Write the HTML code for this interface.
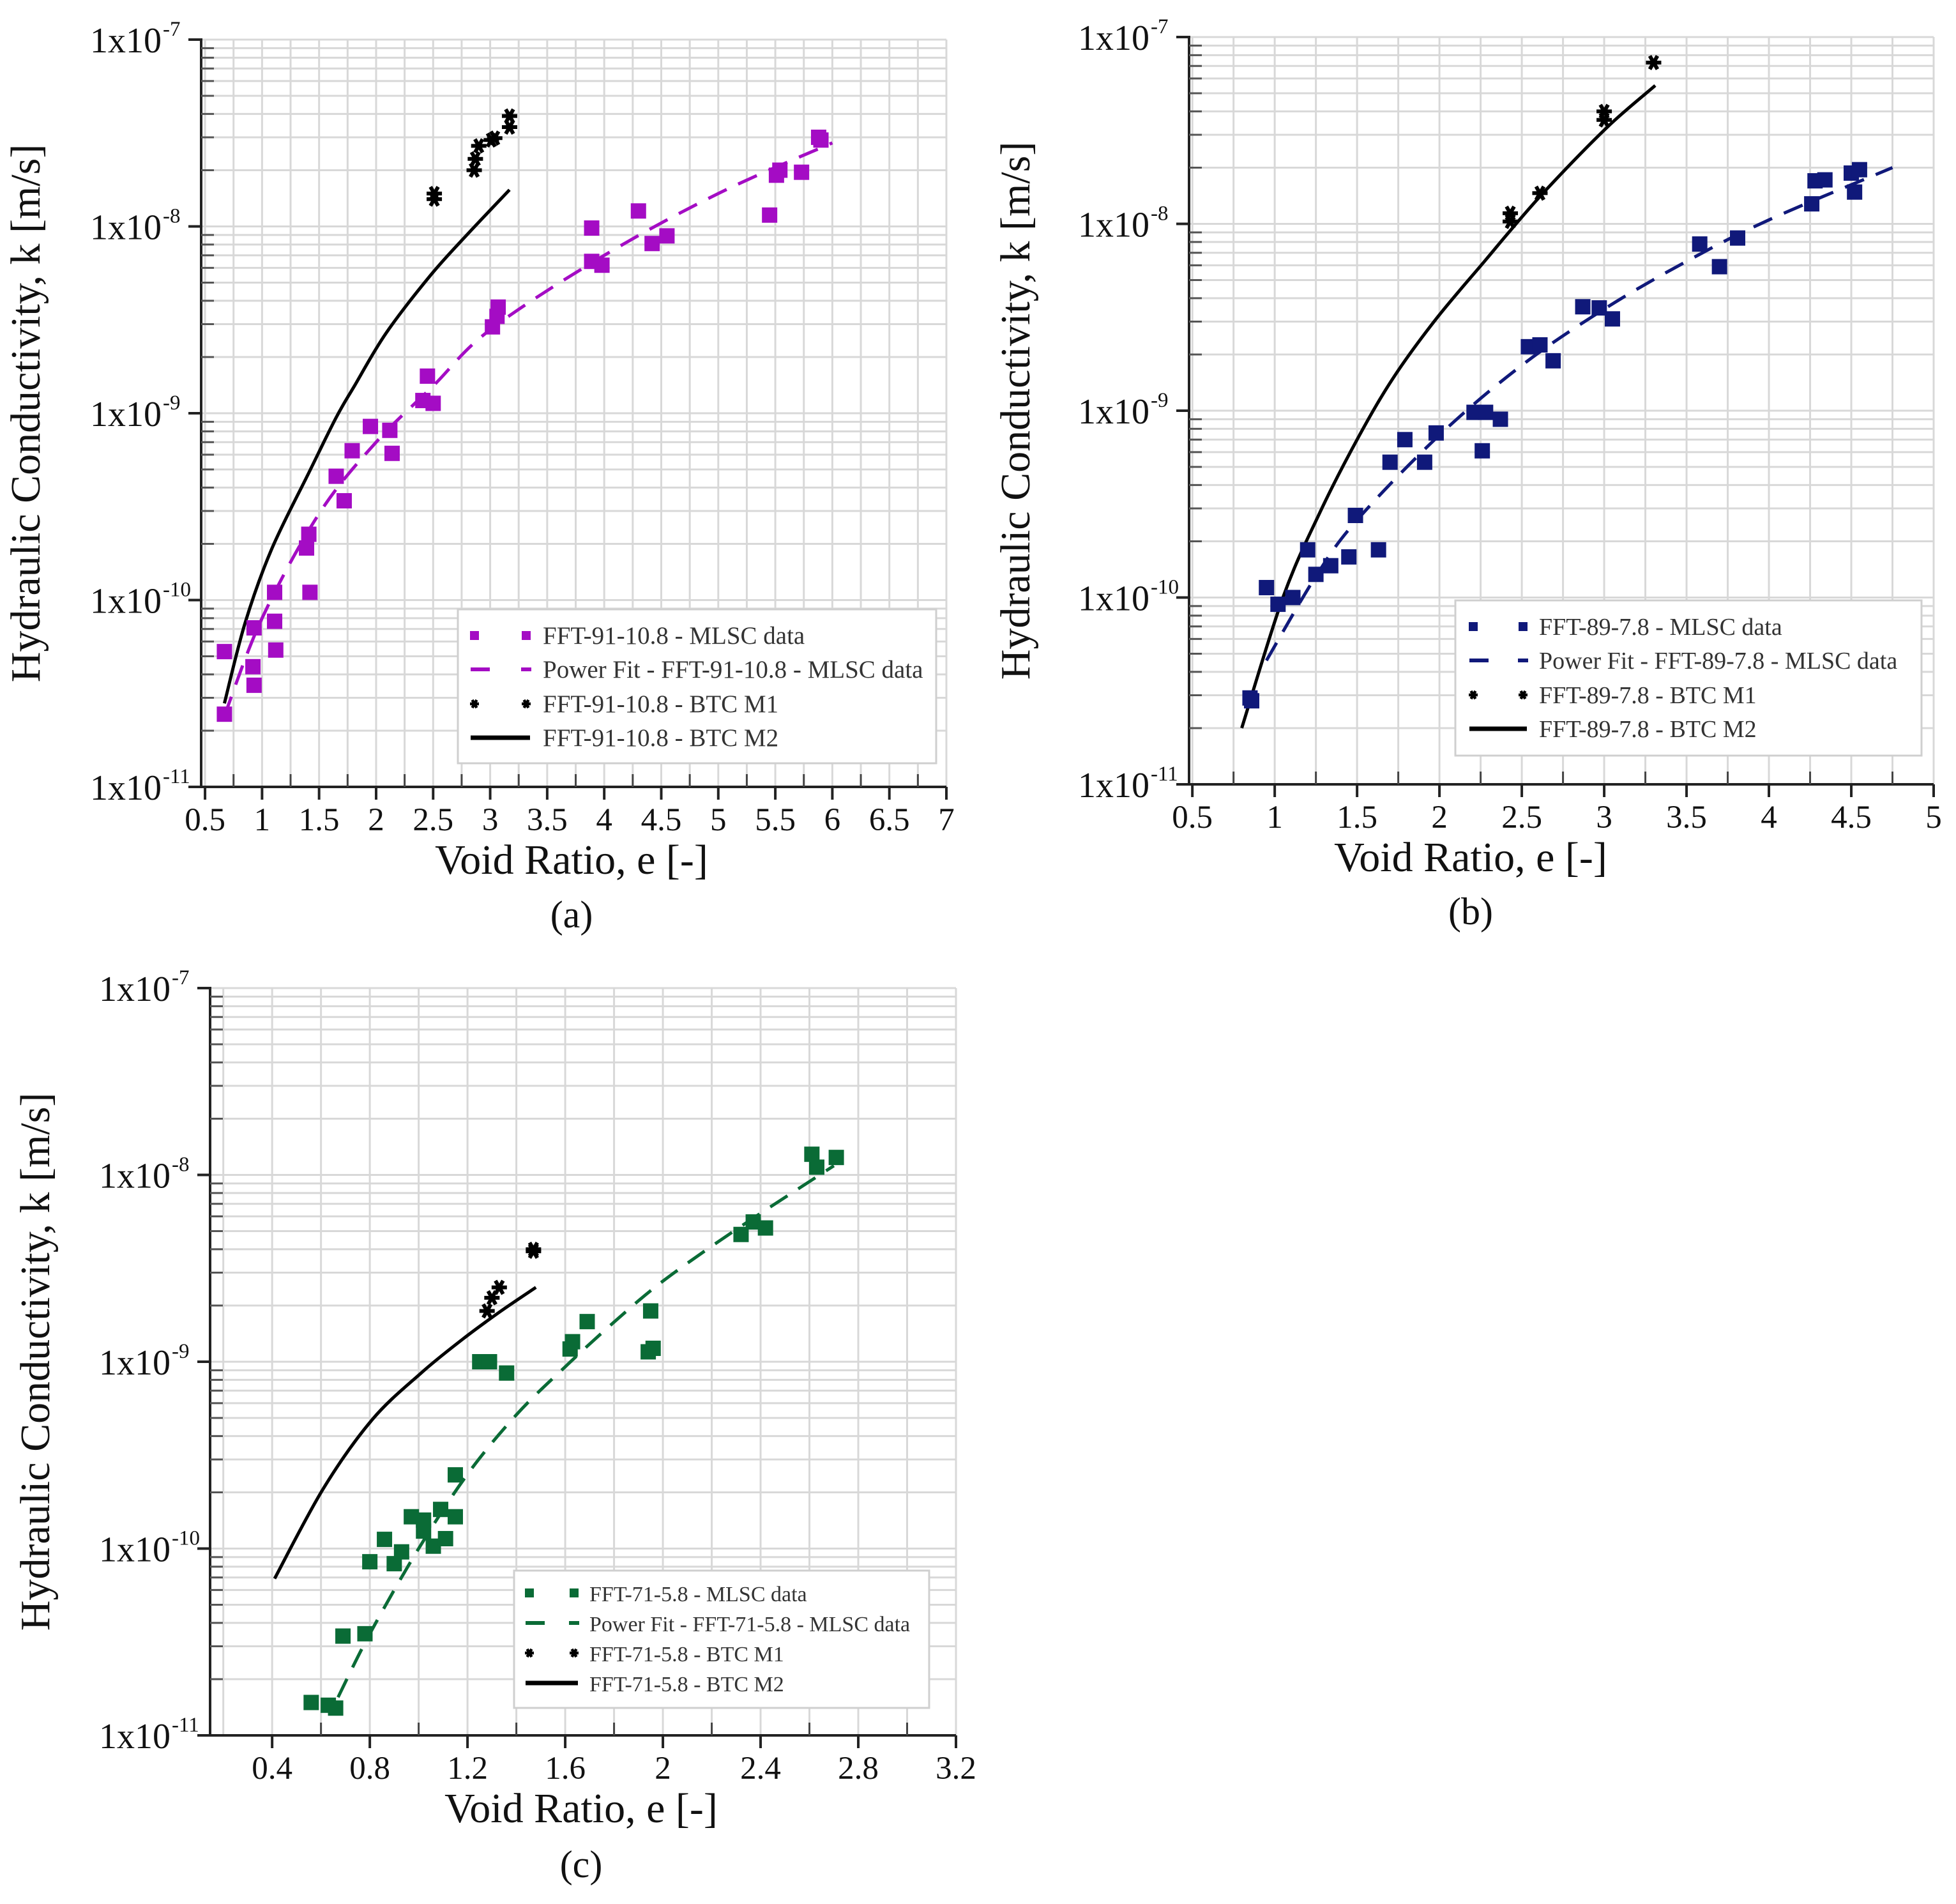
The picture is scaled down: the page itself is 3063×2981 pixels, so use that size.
<!DOCTYPE html>
<html><head><meta charset="utf-8"><style>
html,body{margin:0;padding:0;background:#fff;}
svg{display:block;font-family:"Liberation Serif","Times New Roman",serif;}
svg text{font-family:"Liberation Serif","Times New Roman",serif;}
</style></head><body>
<svg id="fig" xmlns="http://www.w3.org/2000/svg" width="3063" height="2981" viewBox="0 0 3063 2981" font-family="Liberation Serif, serif"></svg>
<script>
// ---------- Panel (a) data ----------
const aMlscE = [0.67,0.67,0.93,0.92,0.93,1.11,1.11,1.12,1.41,1.39,1.42,1.65,1.72,1.79,1.95,2.12,2.14,2.41,2.45,2.50,3.02,3.06,3.07,3.89,3.89,3.98,4.30,4.42,4.55,5.45,5.51,5.54,5.73,5.88,5.90];
const aMlscK = [5.3e-11,2.45e-11,7.1e-11,4.4e-11,3.5e-11,1.1e-10,7.7e-11,5.4e-11,2.25e-10,1.9e-10,1.1e-10,4.6e-10,3.4e-10,6.3e-10,8.5e-10,8.1e-10,6.1e-10,1.17e-9,1.58e-9,1.13e-9,2.9e-9,3.3e-9,3.7e-9,9.8e-9,6.5e-9,6.2e-9,1.21e-8,8.1e-9,8.9e-9,1.15e-8,1.88e-8,2.0e-8,1.95e-8,3.0e-8,2.9e-8];
const aFitE = [0.67,1.0,1.5,2.0,2.5,3.0,4.0,5.0,6.0];
const aFitK = [2.4e-11,8e-11,2.9e-10,7e-10,1.4e-9,2.8e-9,7e-9,1.5e-8,2.8e-8];
const aM1E = [2.51,2.51,2.86,2.87,2.90,3.01,3.04,3.17,3.17];
const aM1K = [1.5e-8,1.4e-8,2.0e-8,2.3e-8,2.7e-8,2.9e-8,2.97e-8,3.4e-8,3.9e-8];
const aM2E = [0.67,0.85,1.08,1.41,1.65,1.81,2.09,2.48,2.81,3.17];
const aM2K = [2.8e-11,7.5e-11,1.85e-10,4.8e-10,9.5e-10,1.4e-9,2.7e-9,5.5e-9,9.2e-9,1.57e-8];
// ---------- Panel (b) data ----------
const bMlscE = [0.85,0.86,0.95,1.02,1.11,1.20,1.25,1.34,1.45,1.49,1.63,1.70,1.79,1.91,1.98,2.21,2.28,2.26,2.37,2.54,2.61,2.69,2.87,2.97,3.05,3.58,3.70,3.81,4.26,4.28,4.34,4.50,4.52,4.55];
const bMlscK = [2.9e-11,2.8e-11,1.13e-10,9.2e-11,1.0e-10,1.8e-10,1.33e-10,1.48e-10,1.65e-10,2.75e-10,1.8e-10,5.3e-10,7e-10,5.3e-10,7.6e-10,9.8e-10,9.8e-10,6.1e-10,9e-10,2.2e-9,2.25e-9,1.85e-9,3.6e-9,3.55e-9,3.1e-9,7.8e-9,5.9e-9,8.4e-9,1.28e-8,1.7e-8,1.72e-8,1.87e-8,1.48e-8,1.95e-8];
const bFitE = [0.95,1.25,1.5,2.0,2.5,3.0,3.5,4.0,4.75];
const bFitK = [4.6e-11,1.3e-10,2.6e-10,7.4e-10,1.75e-9,3.5e-9,6.3e-9,1.05e-8,2.0e-8];
const bM1E = [2.43,2.43,2.61,3.0,3.0,3.30];
const bM1K = [1.14e-8,1.03e-8,1.46e-8,4.0e-8,3.6e-8,7.3e-8];
const bM2E = [0.80,1.05,1.27,1.50,1.72,1.98,2.28,2.43,2.65,3.02,3.31];
const bM2K = [2e-11,1.0e-10,2.8e-10,7.0e-10,1.5e-9,3.1e-9,6.4e-9,9.2e-9,1.53e-8,3.3e-8,5.5e-8];
// ---------- Panel (c) data ----------
const cMlscE = [0.56,0.63,0.66,0.69,0.78,0.80,0.86,0.90,0.93,0.97,1.02,1.02,1.06,1.09,1.11,1.15,1.15,1.25,1.29,1.36,1.62,1.63,1.69,1.94,1.96,1.95,2.32,2.37,2.42,2.61,2.63,2.71];
const cMlscK = [1.5e-11,1.45e-11,1.4e-11,3.4e-11,3.5e-11,8.5e-11,1.12e-10,8.3e-11,9.6e-11,1.48e-10,1.42e-10,1.24e-10,1.03e-10,1.62e-10,1.13e-10,1.48e-10,2.48e-10,1.0e-9,1.0e-9,8.7e-10,1.17e-9,1.28e-9,1.64e-9,1.13e-9,1.18e-9,1.87e-9,4.8e-9,5.6e-9,5.2e-9,1.29e-8,1.1e-8,1.24e-8];
const cFitE = [0.67,0.8,1.0,1.2,1.4,1.6,1.8,2.0,2.3,2.7];
const cFitK = [1.6e-11,3.5e-11,1.0e-10,2.5e-10,5.2e-10,9.4e-10,1.63e-9,2.7e-9,5.1e-9,1.12e-8];
const cM1E = [1.28,1.30,1.33,1.47,1.47];
const cM1K = [1.87e-9,2.2e-9,2.5e-9,4.0e-9,3.9e-9];
const cM2E = [0.41,0.61,0.81,1.01,1.18,1.33,1.48];
const cM2K = [6.9e-11,2.1e-10,4.9e-10,8.7e-10,1.32e-9,1.84e-9,2.5e-9];
// ---------- tick labels ----------
const aXTicks = [0.5,1,1.5,2,2.5,3,3.5,4,4.5,5,5.5,6,6.5,7];
const bXTicks = [0.5,1,1.5,2,2.5,3,3.5,4,4.5,5];
const cXTicks = [0.4,0.8,1.2,1.6,2,2.4,2.8,3.2];
const yExps = [-7,-8,-9,-10,-11];
const aLegend = ["FFT-91-10.8 - MLSC data","Power Fit - FFT-91-10.8 - MLSC data","FFT-91-10.8 - BTC M1","FFT-91-10.8 - BTC M2"];
const bLegend = ["FFT-89-7.8 - MLSC data","Power Fit - FFT-89-7.8 - MLSC data","FFT-89-7.8 - BTC M1","FFT-89-7.8 - BTC M2"];
const cLegend = ["FFT-71-5.8 - MLSC data","Power Fit - FFT-71-5.8 - MLSC data","FFT-71-5.8 - BTC M1","FFT-71-5.8 - BTC M2"];

const NS="http://www.w3.org/2000/svg";
const FF="Liberation Serif, Times New Roman, serif";
const svg=document.getElementById('fig');
function mk(tag,attrs,parent){const e=document.createElementNS(NS,tag);for(const k in attrs)e.setAttribute(k,attrs[k]);if(tag==='text')e.setAttribute('font-family',FF);(parent||svg).appendChild(e);return e;}
function smooth(P){
  let d='M'+P[0][0].toFixed(1)+','+P[0][1].toFixed(1);
  for(let i=0;i<P.length-1;i++){const p0=P[Math.max(i-1,0)],p1=P[i],p2=P[i+1],p3=P[Math.min(i+2,P.length-1)];
    const c1=[p1[0]+(p2[0]-p0[0])/6,p1[1]+(p2[1]-p0[1])/6],c2=[p2[0]-(p3[0]-p1[0])/6,p2[1]-(p3[1]-p1[1])/6];
    d+=`C${c1[0].toFixed(1)},${c1[1].toFixed(1)} ${c2[0].toFixed(1)},${c2[1].toFixed(1)} ${p2[0].toFixed(1)},${p2[1].toFixed(1)}`;}
  return d;}

function panel(p){
  const g=mk('g',{});
  
  
  const X=v=>p.px0+(v-p.xmin)/(p.xmax-p.xmin)*(p.px1-p.px0);
  const Y=v=>p.py1-(Math.log10(v)+11)/4*(p.py1-p.py0);
  const grid=mk('g',{stroke:'#d8d8d8','stroke-width':3},g);
  
  
  for(let d=-11;d<-7;d++)for(let n=1;n<=9;n++){const y=Y(n*Math.pow(10,d));if(n>1||d>-11)mk('line',{x1:p.px0,x2:p.px1,y1:y,y2:y},grid);}
  mk('line',{x1:p.px0,x2:p.px1,y1:p.py0,y2:p.py0},grid);
  for(let v=p.gstep*Math.ceil(p.xmin/p.gstep+1e-6);v<=p.xmax+1e-6;v+=p.gstep){const x=X(v);mk('line',{x1:x,x2:x,y1:p.py0,y2:p.py1},grid);}
  const ax=mk('g',{stroke:'#222','stroke-width':4},g);
  
  
  mk('line',{x1:p.px0,x2:p.px0,y1:p.py0-2,y2:p.py1},ax);
  mk('line',{x1:p.px0,x2:p.px1,y1:p.py1,y2:p.py1},ax);
  for(let d=-11;d<=-7;d++){const y=Y(Math.pow(10,d));mk('line',{x1:p.px0-20,x2:p.px0,y1:y,y2:y},ax);
    if(d<-7)for(let n=2;n<=9;n++){const yy=Y(n*Math.pow(10,d));mk('line',{x1:p.px0,x2:p.px0+20,y1:yy,y2:yy,'stroke-width':3,stroke:'#555'},ax);}}
  p.ticks.forEach(v=>{const x=X(v);mk('line',{x1:x,x2:x,y1:p.py1,y2:p.py1+20},ax);
    const xm=X(v+p.gstep);if(v+p.gstep<p.xmax)mk('line',{x1:xm,x2:xm,y1:p.py1-20,y2:p.py1,'stroke-width':3,stroke:'#444'},ax);});
  yExps.forEach(d=>{const y=Y(Math.pow(10,d));
    const t=mk('text',{x:p.px0-62,y:y+20,'text-anchor':'end','font-size':56,fill:'#111'},g);
    t.textContent='1x10';
    
    
    const s=mk('text',{x:p.px0-60,y:y-6,'font-size':33,fill:'#111'},g);
    s.textContent='-'+(-d);
    
    });
  p.ticks.forEach(v=>{const t=mk('text',{x:X(v),y:p.py1+68,'text-anchor':'middle','font-size':51,fill:'#111'},g);
    t.textContent=String(v);
    
    });
  const xt=mk('text',{x:p.titleX,y:p.py1+136,'text-anchor':'middle','font-size':66,fill:'#111'},g);
  xt.textContent='Void Ratio, e [-]';
  
  
  const yt=mk('text',{x:0,y:0,'text-anchor':'middle','font-size':66,fill:'#111',transform:`translate(${p.ytX},${(p.py0+p.py1)/2}) rotate(-90)`},g);
  yt.textContent='Hydraulic Conductivity, k [m/s]';
  
  
  const cap=mk('text',{x:p.titleX,y:p.capY,'text-anchor':'middle','font-size':60,fill:'#111'},g);
  cap.textContent='('+p.id+')';
  
  
  const pts=(E,K)=>E.map((e,i)=>[X(e),Y(K[i])]);
  const fit=mk('path',{d:smooth(pts(p.fitE,p.fitK)),fill:'none',stroke:p.color,'stroke-width':5,'stroke-dasharray':'32 20'},g);
  
  
  const m2=mk('path',{d:smooth(pts(p.m2E,p.m2K)),fill:'none',stroke:'#000','stroke-width':5,'stroke-linejoin':'round'},g);
  
  
  p.mE.forEach((e,i)=>{const r=mk('rect',{x:X(e)-12,y:Y(p.mK[i])-12,width:24,height:24,fill:p.color},g);
    
    });
  const star=(cx,cy,r,w,par)=>mk('path',{d:`M${cx-r},${cy}H${cx+r}M${cx-r*0.5},${cy-r*0.87}L${cx+r*0.5},${cy+r*0.87}M${cx-r*0.5},${cy+r*0.87}L${cx+r*0.5},${cy-r*0.87}`,stroke:'#000','stroke-width':w,fill:'none'},par);
  p.m1E.forEach((e,i)=>{const s=star(X(e),Y(p.m1K[i]),12,6,g);
    
    });
  const L=p.leg;
  const lg=mk('g',{},g);
  
  
  mk('rect',{x:L.x,y:L.y,width:L.w,height:L.h,fill:'#fff',stroke:'#cfcfcf','stroke-width':3},lg);
  L.rows.forEach((ry,i)=>{
    if(i===0){mk('rect',{x:L.m1-7,y:ry-7,width:14,height:14,fill:p.color},lg);mk('rect',{x:L.m2-7,y:ry-7,width:14,height:14,fill:p.color},lg);}
    if(i===1){mk('line',{x1:L.m1-6,x2:L.m1+24,y1:ry,y2:ry,stroke:p.color,'stroke-width':6},lg);mk('line',{x1:L.m2-8,x2:L.m2+8,y1:ry,y2:ry,stroke:p.color,'stroke-width':6},lg);}
    if(i===2){star(L.m1,ry,7,4.5,lg);star(L.m2,ry,7,4.5,lg);}
    if(i===3){mk('line',{x1:L.m1-6,x2:L.m2+6,y1:ry,y2:ry,stroke:'#000','stroke-width':7},lg);}
    const t=mk('text',{x:L.tx,y:ry+13,'font-size':L.fs,fill:'#333'},lg);
    t.textContent=p.legText[i];
    
    
  });
}

panel({id:'a',color:'#a40cc4',xmin:0.466,xmax:7,px0:315,px1:1482,py0:62,py1:1232,gstep:0.25,ticks:aXTicks,
  titleX:895,ytX:62,capY:1452,mE:aMlscE,mK:aMlscK,fitE:aFitE,fitK:aFitK,m1E:aM1E,m1K:aM1K,m2E:aM2E,m2K:aM2K,legText:aLegend,
  leg:{x:717,y:954,w:749,h:241,rows:[995,1048,1102,1155],m1:743,m2:824,tx:850,fs:39}});
panel({id:'b',color:'#10197a',xmin:0.48,xmax:5,px0:1862,px1:3028,py0:58,py1:1228,gstep:0.25,ticks:bXTicks,
  titleX:2303,ytX:1612,capY:1447,mE:bMlscE,mK:bMlscK,fitE:bFitE,fitK:bFitK,m1E:bM1E,m1K:bM1K,m2E:bM2E,m2K:bM2K,legText:bLegend,
  leg:{x:2279,y:940,w:730,h:243,rows:[981,1034,1088,1141],m1:2307,m2:2385,tx:2410,fs:38}});
panel({id:'c',color:'#0a6b36',xmin:0.146,xmax:3.2,px0:329,px1:1497,py0:1547,py1:2717,gstep:0.2,ticks:cXTicks,
  titleX:910,ytX:77,capY:2939,mE:cMlscE,mK:cMlscK,fitE:cFitE,fitK:cFitK,m1E:cM1E,m1K:cM1K,m2E:cM2E,m2K:cM2K,legText:cLegend,
  leg:{x:805,y:2459,w:650,h:215,rows:[2494,2541,2588,2635],m1:829,m2:899,tx:923,fs:34}});
</script>
</body></html>
